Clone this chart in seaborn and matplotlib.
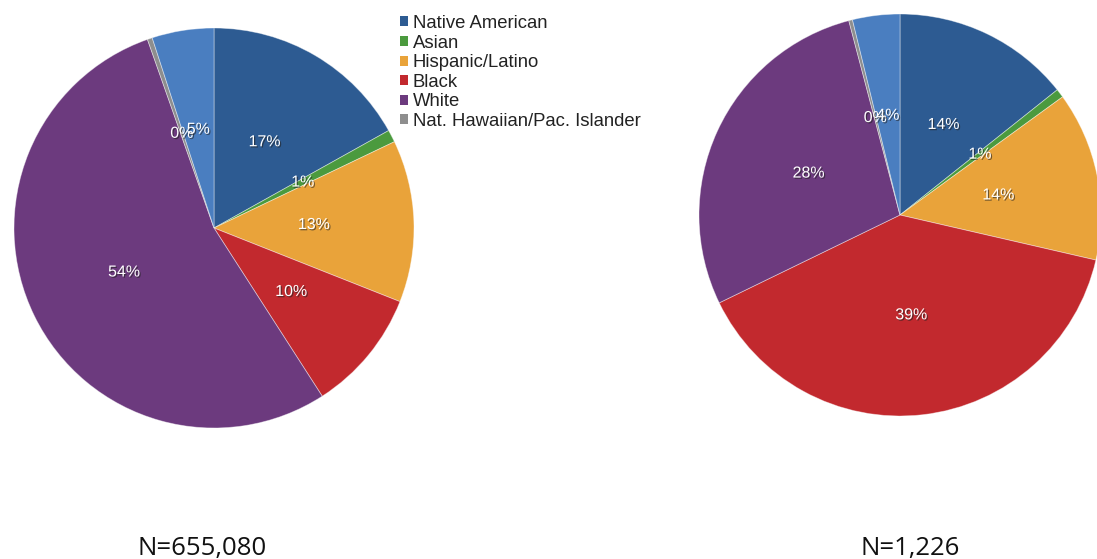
import matplotlib
matplotlib.use("Agg")
import matplotlib.pyplot as plt
import matplotlib.patheffects as pe
from matplotlib.patches import Patch
import seaborn as sns

# Race/ethnicity shares (percent), clockwise from 12 o'clock
categories = ["Native American", "Asian", "Hispanic/Latino", "Black", "White",
              "Nat. Hawaiian/Pac. Islander", "Two or more"]
left_share = [16.9, 1.0, 13.1, 9.9, 53.7, 0.4, 5.0]
right_share = [14.3, 0.7, 13.6, 39.2, 28.1, 0.3, 3.8]
left_n = "N=655,080"
right_n = "N=1,226"
legend_items = categories[:6]

colors = ["#2D5B92", "#4B9A3E", "#E9A33A", "#C2292E", "#6C3A7E", "#8E8E8E", "#4A7EC0"]

sns.set_theme(style="white")
plt.rcParams["font.family"] = ["Liberation Sans", "DejaVu Sans"]

W, H = 1097, 559
fig = plt.figure(figsize=(W / 100, H / 100), dpi=100)


def px_axes(cx, cy, r):
    return fig.add_axes([(cx - r) / W, (H - cy - r) / H, 2 * r / W, 2 * r / H])


shadow = [pe.SimplePatchShadow(offset=(0.9, -0.9), shadow_rgbFace="#222222", alpha=0.6),
          pe.Normal()]


def draw_pie(ax, values):
    wedges, _, autotexts = ax.pie(
        values, colors=colors, startangle=90, counterclock=False,
        autopct="%.0f%%", pctdistance=0.5, radius=1.0,
        wedgeprops=dict(edgecolor=(1, 1, 1, 0.45), linewidth=0.6),
        textprops=dict(color="white", fontsize=11.5),
    )
    for t in autotexts:
        t.set_path_effects(shadow)
    ax.set_xlim(-1.0, 1.0)
    ax.set_ylim(-1.0, 1.0)
    ax.set_aspect("equal")
    ax.axis("off")


ax_left = px_axes(214, 228, 200)
draw_pie(ax_left, left_share)

ax_right = px_axes(900, 215, 201)
draw_pie(ax_right, right_share)

handles = [Patch(facecolor=c, edgecolor="none") for c in colors[:6]]
fig.legend(handles, legend_items, loc="upper left",
           bbox_to_anchor=(400 / W, 1 - 15 / H), frameon=False,
           fontsize=13.3, handlelength=0.45, handleheight=0.45,
           handletextpad=0.25, labelspacing=0.14, borderpad=0, borderaxespad=0,
           labelcolor="#222222")

fig.text(202.5 / W, 1 - 555 / H, left_n, ha="center", va="baseline",
         fontsize=18.5, color="#111111", family=["Open Sans", "DejaVu Sans"])
fig.text(910.5 / W, 1 - 555 / H, right_n, ha="center", va="baseline",
         fontsize=18.5, color="#111111", family=["Open Sans", "DejaVu Sans"])

fig.savefig("out.png", dpi=100, facecolor="white")
